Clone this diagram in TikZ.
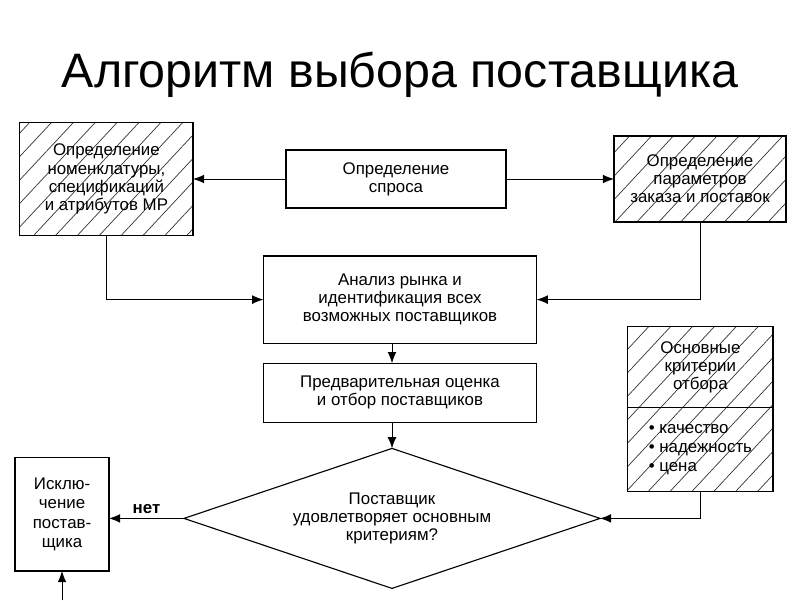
\documentclass[tikz,border=0pt]{standalone}
\usepackage{fontspec}
\setmainfont{Liberation Sans}
\usetikzlibrary{positioning,shapes.geometric,arrows.meta,patterns.meta}

\begin{document}
\begin{tikzpicture}[node distance={8mm},
    blok/.style = {draw, rectangle, line width=0.8pt, align=center, inner sep=2pt, outer sep=0pt, font=\fontsize{12}{12.9}\selectfont},
    shtrih/.style = {blok, pattern={Lines[angle=47,distance=0.4cm,line width=0.5pt]}, pattern color=black!80},
    romb/.style = {draw, diamond, aspect=3, line width=0.8pt, align=center, inner sep=0pt, outer sep=0pt, font=\fontsize{12}{12.9}\selectfont},
    strelka/.style = {-{Latex[length=2.8mm,width=2.2mm]}, line width=0.7pt}]
    \useasboundingbox (0,0) rectangle (20,-15);

    \node (titul) at (10,-1.875) {\fontsize{34.4}{40}\selectfont Алгоритм выбора поставщика};

    % central column
    \node[blok, minimum width=5.5cm, minimum height=1.45cm] (spros) at (9.9,-4.475) {Определение\\спроса};
    \node[blok, minimum width=6.83cm, minimum height=2.18cm] (analiz) [below=1.2cm of spros, xshift=0.1cm] {Анализ рынка и\\идентификация всех\\возможных поставщиков};
    \node[blok, minimum width=6.83cm, minimum height=1.48cm] (otsenka) [below=0.5cm of analiz] {Предварительная оценка\\и отбор поставщиков};
    \node[romb, minimum width=10.4cm, minimum height=3.5cm] (vybor) [below=0.65cm of otsenka, xshift=-0.2cm] {Поставщик\\удовлетворяет основным\\критериям?};

    % side boxes
    \node[shtrih, minimum width=4.33cm, minimum height=2.83cm] (nomen) at (2.66,-4.475) {Определение\\номенклатуры,\\спецификаций\\и атрибутов МР};
    \node[shtrih, minimum width=4.3cm, minimum height=2.15cm] (param) at (17.5,-4.475) {Определение\\параметров\\заказа и поставок};
    \node[shtrih, minimum width=3.63cm, minimum height=2.03cm] (kriterii) at (17.51,-9.175) {Основные\\критерии\\отбора};
    \node[shtrih, minimum width=3.63cm, minimum height=2.1cm, align=left, font=\fontsize{12}{13.8}\selectfont] (spisok) [below=0pt of kriterii] {• качество\\• надежность\\• цена};
    \node[blok, minimum width=2.35cm, minimum height=2.83cm, font=\fontsize{12}{13.8}\selectfont] (iskl) at (1.55,-12.86) {Исклю-\\чение\\постав-\\щика};
    \coordinate (vniz) at (1.55,-15);

    \draw[strelka] (spros) -- (nomen);
    \draw[strelka] (spros) -- (param);
    \draw[strelka] (nomen.south) |- (analiz.west);
    \draw[strelka] (param.south) |- (analiz.east);
    \draw[strelka] (analiz.south -| vybor.north) -- (otsenka.north -| vybor.north);
    \draw[strelka] (otsenka.south -| vybor.north) -- (vybor.north);
    \draw[strelka] (spisok.south) |- (vybor.east);
    \draw[strelka] (vybor.west) -- node[above, font=\bfseries\fontsize{12}{13}\selectfont] {нет} (vybor.west -| iskl.east);
    \draw[strelka] (vniz) -- (iskl);
\end{tikzpicture}
\end{document}
